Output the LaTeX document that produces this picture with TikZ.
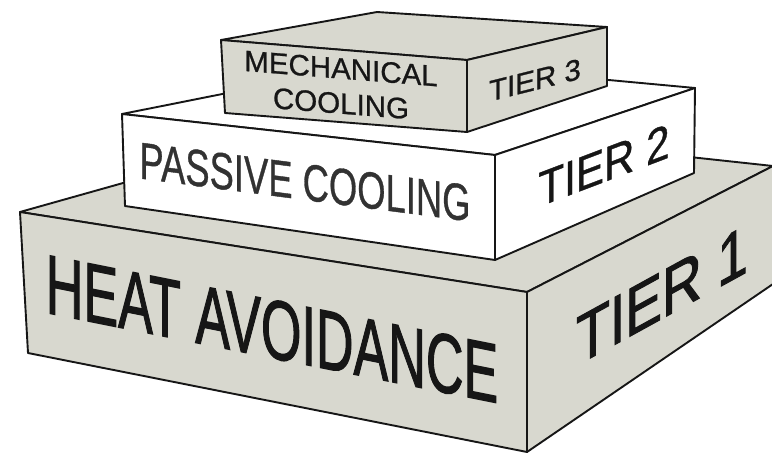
\documentclass[tikz,border=0pt]{standalone}
\usepackage{fontspec}
\setmainfont{Liberation Sans}
\newfontfamily\heavyfont[FakeBold=1.6]{Liberation Sans}
\newfontfamily\medfont[FakeBold=0.8]{Liberation Sans}
\definecolor{tiergray}{RGB}{216,216,207}
\definecolor{inkc}{RGB}{22,22,22}
\begin{document}
\begin{tikzpicture}[x=1pt,y=-1pt,
  face/.style={draw=inkc,line width=1.9pt,line join=round},
  grayface/.style={face,fill=tiergray},
  whiteface/.style={face,fill=white},
  lbl/.style={inner sep=0pt,text=inkc,transform shape,align=center}]
\useasboundingbox (0,0) rectangle (772,455);
\fill[white] (0,0) rectangle (772,455);
% ---------- Tier 1 ----------
\coordinate (A1) at (20,212);
\coordinate (B1) at (28,353);
\coordinate (C1) at (527,292);
\coordinate (D1) at (527,452);
\coordinate (G1) at (347,120);
\coordinate (E1) at (773,166);
\coordinate (F1) at (773,284);
\draw[grayface] (A1) -- (G1) -- (E1) -- (C1) -- cycle;
\draw[grayface] (C1) -- (E1) -- (F1) -- (D1) -- cycle;
\draw[grayface] (A1) -- (C1) -- (D1) -- (B1) -- cycle;
% ---------- Tier 2 ----------
\coordinate (A2) at (122,114);
\coordinate (B2) at (125,206);
\coordinate (C2) at (495,155);
\coordinate (D2) at (495,260);
\coordinate (G2) at (393,60);
\coordinate (E2) at (695,88);
\coordinate (F2) at (694,173);
\draw[whiteface] (A2) -- (G2) -- (E2) -- (C2) -- cycle;
\draw[whiteface] (C2) -- (E2) -- (F2) -- (D2) -- cycle;
\draw[whiteface] (A2) -- (C2) -- (D2) -- (B2) -- cycle;
% ---------- Tier 3 ----------
\coordinate (A3) at (221,40);
\coordinate (B3) at (225,113);
\coordinate (C3) at (467,60);
\coordinate (D3) at (467,132);
\coordinate (G3) at (377,12);
\coordinate (E3) at (607,27);
\coordinate (F3) at (607,86);
\draw[grayface] (A3) -- (G3) -- (E3) -- (C3) -- cycle;
\draw[grayface] (C3) -- (E3) -- (F3) -- (D3) -- cycle;
\draw[grayface] (A3) -- (C3) -- (D3) -- (B3) -- cycle;
% ---------- Labels ----------
\begin{scope}[shift={(272,329)}]
  \node[lbl,yslant=-0.2,xscale=0.62,font=\heavyfont\fontsize{84}{84}\selectfont] (t1front) at (0,0) {HEAT AVOIDANCE};
\end{scope}
\begin{scope}[shift={(662,295)}]
  \node[lbl,yslant=0.55,xscale=0.8,font=\heavyfont\fontsize{69}{69}\selectfont] (t1side) at (0,0) {TIER 1};
\end{scope}
\begin{scope}[shift={(305,182)}]
  \node[lbl,yslant=-0.13,xscale=0.7,font=\medfont\fontsize{52}{52}\selectfont,text=inkc!88] (t2front) at (0,0) {PASSIVE COOLING};
\end{scope}
\begin{scope}[shift={(604,165)}]
  \node[lbl,yslant=0.38,xscale=0.86,font=\medfont\fontsize{49}{49}\selectfont] (t2side) at (0,0) {TIER 2};
\end{scope}
\begin{scope}[shift={(341,86)}]
  \node[lbl,yslant=-0.08,font=\medfont\fontsize{29.5}{35}\selectfont] (t3front) at (0,0) {MECHANICAL\\COOLING};
\end{scope}
\begin{scope}[shift={(535,80)}]
  \node[lbl,yslant=0.25,font=\medfont\fontsize{29.5}{29.5}\selectfont] (t3side) at (0,0) {TIER 3};
\end{scope}
\end{tikzpicture}
\end{document}
